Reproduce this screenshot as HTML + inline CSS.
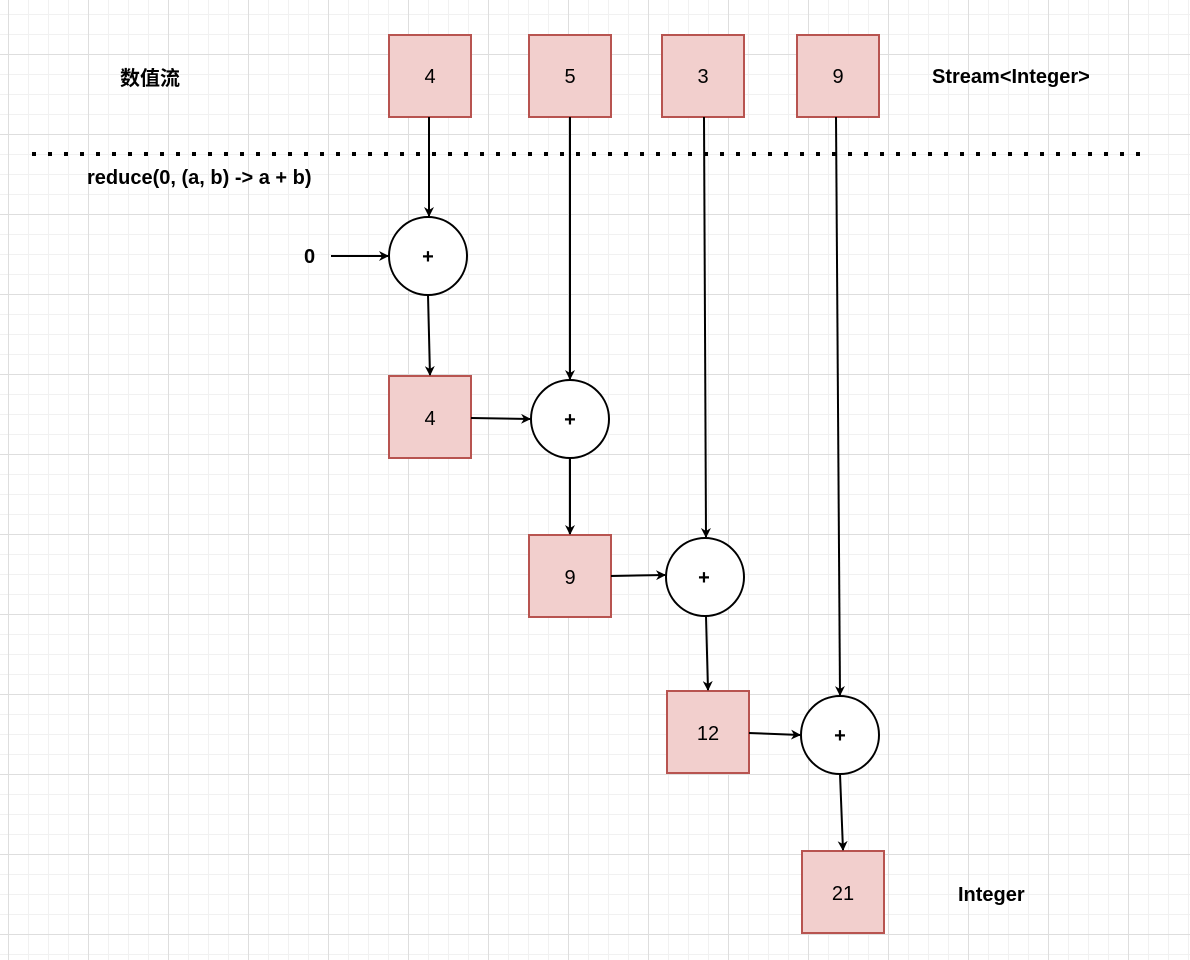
<!DOCTYPE html>
<html><head><meta charset="utf-8"><style>
body{margin:0;width:1190px;height:960px;overflow:hidden;background:#fff;
background-image:linear-gradient(#dedede 1px,transparent 1px),linear-gradient(90deg,#dedede 1px,transparent 1px),linear-gradient(#f1f1f1 1px,transparent 1px),linear-gradient(90deg,#f1f1f1 1px,transparent 1px);
background-size:80px 80px,80px 80px,20px 20px,20px 20px;
background-position:0 54px,8px 0,0 14px,8px 0;}
svg{position:absolute;left:0;top:0}
</style></head><body>
<svg width="1190" height="960" font-family="Liberation Sans, Noto Sans CJK SC, sans-serif">
<defs><marker id="a" markerWidth="10" markerHeight="10" refX="9" refY="5" orient="auto" markerUnits="userSpaceOnUse"><path d="M0,0 L10,5 L0,10 L3,5 z" fill="#000"/></marker></defs>
<line x1="32" y1="154" x2="1140" y2="154" stroke="#000" stroke-width="4" stroke-dasharray="4 12"/>
<g fill="#f2cfcd" stroke="#b85450" stroke-width="2">
<rect x="389" y="35" width="82" height="82"/><rect x="529" y="35" width="82" height="82"/><rect x="662" y="35" width="82" height="82"/><rect x="797" y="35" width="82" height="82"/>
<rect x="389" y="376" width="82" height="82"/><rect x="529" y="535" width="82" height="82"/><rect x="667" y="691" width="82" height="82"/><rect x="802" y="851" width="82" height="82"/>
</g>
<g fill="#fff" stroke="#000" stroke-width="2">
<circle cx="428" cy="256" r="39"/><circle cx="570" cy="419" r="39"/><circle cx="705" cy="577" r="39"/><circle cx="840" cy="735" r="39"/>
</g>
<g stroke="#000" stroke-width="2" marker-end="url(#a)">
<line x1="429" y1="117" x2="429" y2="216"/><line x1="570" y1="117" x2="570" y2="379"/><line x1="704" y1="117" x2="706" y2="537"/><line x1="836" y1="117" x2="840" y2="695"/>
<line x1="428" y1="295" x2="430" y2="375"/><line x1="471" y1="418" x2="530" y2="419"/><line x1="570" y1="458" x2="570" y2="534"/>
<line x1="611" y1="576" x2="665" y2="575"/><line x1="706" y1="616" x2="708" y2="690"/><line x1="749" y1="733" x2="800" y2="735"/>
<line x1="840" y1="774" x2="843" y2="850"/><line x1="331" y1="256" x2="388" y2="256"/>
</g>
<g font-size="20" text-anchor="middle" fill="#000">
<text x="430" y="83">4</text><text x="570" y="83">5</text><text x="703" y="83">3</text><text x="838" y="83">9</text>
<text x="430" y="425">4</text><text x="570" y="584">9</text><text x="708" y="740">12</text><text x="843" y="900">21</text>
</g>
<g font-size="20" font-weight="bold" text-anchor="middle">
<text x="428" y="263">+</text><text x="570" y="426">+</text><text x="704" y="584">+</text><text x="840" y="742">+</text>
</g>
<g font-size="20" font-weight="bold">
<text x="120" y="85">数值流</text>
<text x="87" y="184">reduce(0, (a, b) -&gt; a + b)</text>
<text x="304" y="263">0</text>
<text x="932" y="83">Stream&lt;Integer&gt;</text>
<text x="958" y="901">Integer</text>
</g>
</svg>
</body></html>
